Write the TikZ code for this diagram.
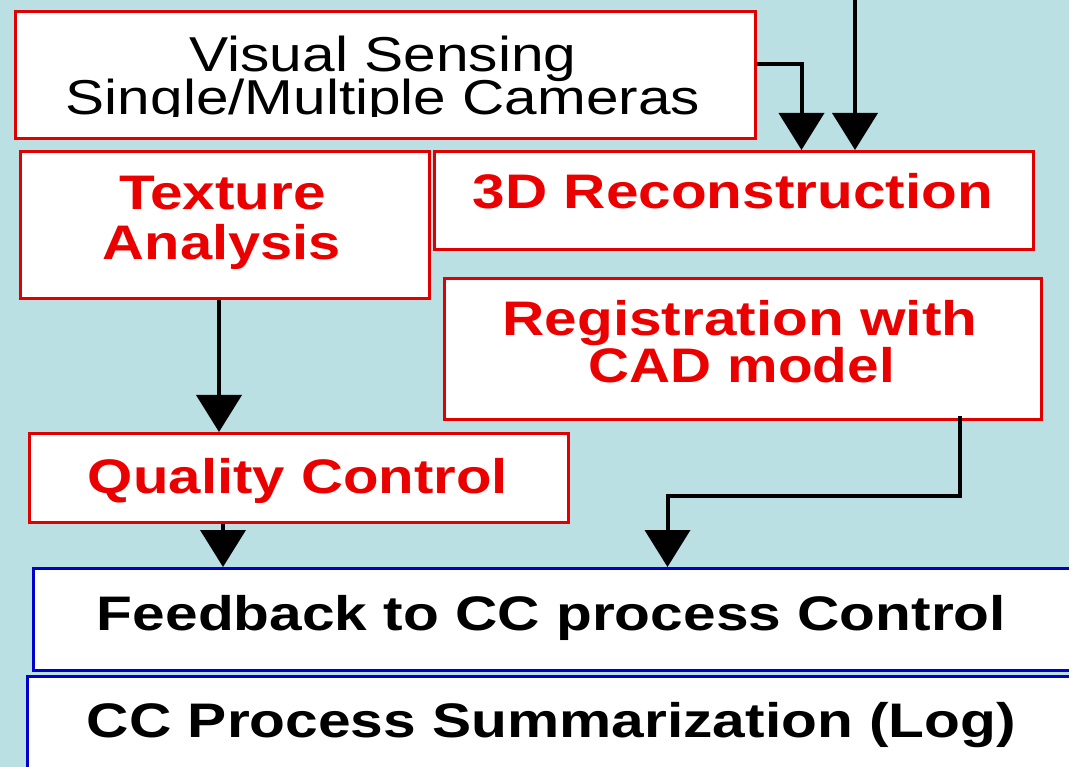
\documentclass[tikz,border=0pt]{standalone}
\usepackage{fontspec}
\setmainfont{Liberation Sans}
\usetikzlibrary{arrows.meta}
\definecolor{bg}{RGB}{186,224,228}
\definecolor{boxred}{RGB}{225,0,0}
\definecolor{txtred}{RGB}{235,0,0}
\definecolor{boxblue}{RGB}{0,0,204}
% stretch a label to a given width, keeping its height
\newcommand{\fitw}[2]{\resizebox{#1}{\height}{#2}}

\begin{document}
\begin{tikzpicture}[x=1pt,y=-1pt,
  box/.style={draw=boxred, line width=3pt, fill=white, rectangle,
    inner sep=0pt, anchor=north west},
  bluebox/.style={box, draw=boxblue},
  lbl/.style={anchor=base, inner sep=0pt, text=txtred,
    font=\fontsize{48.5}{48.5}\selectfont\bfseries},
  blk/.style={lbl, text=black},
  arr/.style={line width=4pt, -{Triangle[width=45pt,length=37pt]}}
]
\fill[bg] (0,0) rectangle (1069,767);
\useasboundingbox (0,0) rectangle (1069,767);

% boxes
\node[box, minimum width=740pt, minimum height=127pt] (vis) at (14,10) {};
\node[box, minimum width=409pt, minimum height=147pt] (tex) at (19,150) {};
\node[box, minimum width=599pt, minimum height=98pt] (rec) at (433,150) {};
\node[box, minimum width=597pt, minimum height=141pt] (reg) at (443,277) {};
\node[box, minimum width=539pt, minimum height=89pt] (qc) at (28,432) {};
\node[bluebox, minimum width=1043pt, minimum height=102pt] (fb) at (32,567) {};
\node[bluebox, minimum width=1049pt, minimum height=110pt] (cc) at (26,675) {};

% labels
\node[blk, font=\fontsize{49}{49}\selectfont] (visA) at (383,72)
  {\fitw{387pt}{Visual Sensing}};
\begin{scope}
  % the second line is cut off just below its baseline
  \clip (16,78) rectangle (752,116.5);
  \node[blk, font=\fontsize{49}{49}\selectfont] (visB) at (383,115)
    {\fitw{634pt}{Single/Multiple Cameras}};
\end{scope}
\node[lbl] (texA) at (222.5,210) {\fitw{207pt}{Texture}};
\node[lbl] (texB) at (222,260) {\fitw{238pt}{Analysis}};
\node[lbl] (recA) at (733,209) {\fitw{520pt}{3D Reconstruction}};
\node[lbl] (regA) at (740,336) {\fitw{475pt}{Registration with}};
\node[lbl] (regB) at (742,383) {\fitw{306pt}{CAD model}};
\node[lbl] (qcA) at (298,493) {\fitw{420pt}{Quality Control}};
\node[blk] (fbA) at (551.5,630) {\fitw{909pt}{Feedback to CC process Control}};
\node[blk] (ccA) at (551.5,737) {\fitw{929pt}{CC Process Summarization (Log)}};

% connectors
\coordinate (feed) at (855,-5);
\draw[arr] ([yshift=10.5pt]vis.east) -| ([xshift=67.5pt]rec.north);
\draw[arr] (feed) -- (feed |- rec.north);
\draw[arr] ([xshift=-6pt]tex.south) -- ([xshift=-6pt]tex.south |- qc.north);
\draw[arr] ([xshift=-76pt]qc.south) -- ([xshift=-76pt]qc.south |- fb.north);
\draw[arr] ([xshift=216.5pt,yshift=5pt]reg.south) -- ++(0,80)
  -| ([xshift=112.5pt]fb.north);
\end{tikzpicture}
\end{document}
